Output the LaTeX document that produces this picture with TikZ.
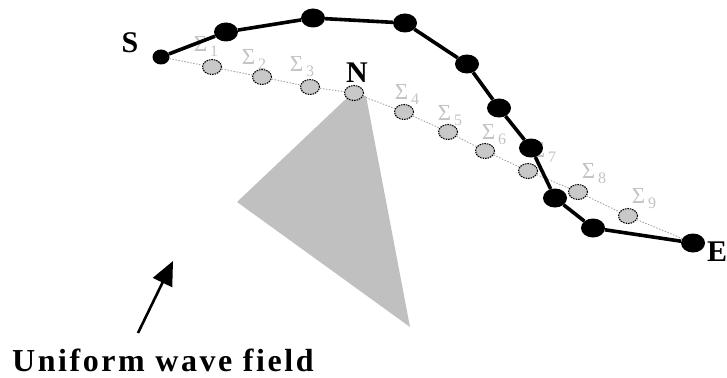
\documentclass[tikz,border=0pt]{standalone}
\usepackage{fontspec}
\setmainfont{Liberation Serif}
\usetikzlibrary{arrows.meta,shapes.geometric}
\definecolor{siggray}{RGB}{195,195,195}
\definecolor{dotgray}{RGB}{200,200,200}
\definecolor{trigray}{RGB}{192,192,192}
\definecolor{pathgray}{RGB}{165,165,165}
\tikzset{
  bdot/.style={ellipse,fill=black,inner sep=0pt,minimum width=24pt,minimum height=19pt},
  sdot/.style={ellipse,fill=black,inner sep=0pt,minimum width=17pt,minimum height=15pt},
  gdot/.style={ellipse,fill=dotgray,draw=black,line width=1.1pt,dash pattern=on 1.5pt off 1pt,inner sep=0pt,minimum width=19pt,minimum height=15pt},
  siglab/.style={text=siggray,inner sep=0pt,font=\fontsize{23}{23}\selectfont},
  ptlab/.style={inner sep=0pt,font=\fontsize{30}{30}\selectfont\bfseries},
  blackpath/.style={line width=3.6pt,line join=round},
  graypath/.style={pathgray,line width=0.9pt,dash pattern=on 1.5pt off 1.5pt},
}
\newcommand\sigl[1]{Σ\hspace{3pt}\raisebox{-5pt}{\fontsize{16}{16}\selectfont #1}}
\begin{document}
\begin{tikzpicture}[x=1pt,y=-1pt]
\useasboundingbox (0,0) rectangle (727,377);
% triangle
\fill[trigray] (349,96) -- (366,96) -- (410,327) -- (237,202) -- cycle;
% sigma labels
\node[siglab] (l1) at (206,46) {\sigl{1}};
\node[siglab] (l2) at (254,59) {\sigl{2}};
\node[siglab] (l3) at (302,67) {\sigl{3}};
\node[siglab] (l4) at (407,94) {\sigl{4}};
\node[siglab] (l5) at (450,116) {\sigl{5}};
\node[siglab] (l6) at (494,135) {\sigl{6}};
\node[siglab] (l7) at (544,152) {\sigl{7}};
\node[siglab] (l8) at (594,174) {\sigl{8}};
\node[siglab] (l9) at (644,199) {\sigl{9}};
% gray nodes
\node[gdot] (g1) at (212,67) {};
\node[gdot] (g2) at (262,77) {};
\node[gdot] (g3) at (310,87) {};
\node[gdot] (gn) at (354,93) {};
\node[gdot] (g4) at (404,112) {};
\node[gdot] (g5) at (448,132) {};
\node[gdot] (g6) at (485,151) {};
\node[gdot] (g7) at (528,171) {};
\node[gdot] (g8) at (578,192) {};
\node[gdot] (g9) at (628,216) {};
% black nodes
\node[sdot] (s) at (161,57) {};
\node[bdot] (b1) at (226,32) {};
\node[bdot] (b2) at (313,18) {};
\node[bdot] (b3) at (405,23) {};
\node[bdot] (b4) at (467,64) {};
\node[bdot] (b5) at (499,108) {};
\node[bdot] (b6) at (531,148) {};
\node[bdot] (b7) at (555,198) {};
\node[bdot] (b8) at (593,228) {};
\node[bdot] (e) at (693,243) {};
% gray dotted path
\draw[graypath] (s) -- (g1) -- (g2) -- (g3) -- (gn) -- (g4) -- (g5) -- (g6) -- (g7) -- (g8) -- (g9) -- (e);
% black path
\draw[blackpath] (s) -- (b1) -- (b2) -- (b3) -- (b4) -- (b5) -- (b6) -- (b7) -- (b8) -- (e);
% point labels
\node[ptlab] (ls) at (130,43) {S};
\node[ptlab] (ln) at (357,73) {N};
\node[ptlab,anchor=west] (le) at (707,252) {E};
% arrow
\coordinate (atail) at (138,333);
\coordinate (ahead) at (173,261);
\draw[line width=2.6pt,-{Triangle[length=24pt,width=21pt]}] (atail) -- (ahead);
% caption
\node[anchor=base west,inner sep=0pt,font=\fontsize{32}{32}\selectfont\bfseries\addfontfeatures{LetterSpace=8}] (cap) at (12,371) {Uniform wave field};
\end{tikzpicture}
\end{document}
